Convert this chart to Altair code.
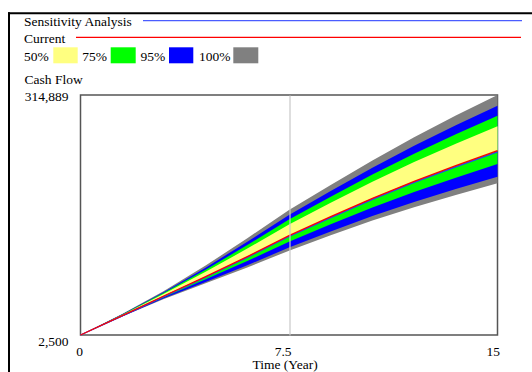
import altair as alt
import pandas as pd

# Simulation time (years)
years = [0, 1.5, 3, 4.5, 6, 7.5, 9, 10.5, 12, 13.5, 15]

# Cash flow of the current run and of the sensitivity base run
current = [2500, 27700, 53300, 78400, 104500, 131800, 156500, 180400, 202500, 222900, 242400]
sensitivity = [2500, 27400, 52800, 77700, 103600, 130700, 155300, 179100, 201100, 221400, 240900]

# Confidence bounds of the sensitivity runs
yellow_hi = [2500, 28650, 56151, 84735, 114952, 146370, 174554, 201938, 227522, 251406, 274073]
green_hi = [2500, 29067, 57400, 87511, 119533, 152756, 182467, 211378, 238489, 263900, 287956]
green_lo = [2500, 27179, 51738, 74929, 98773, 123817, 146608, 168599, 188790, 207280, 225045]
blue_hi = [2500, 29457, 58571, 90114, 123829, 158743, 189886, 220229, 248772, 275615, 300972]
blue_lo = [2500, 26685, 50254, 71632, 93332, 116233, 137210, 157387, 175765, 192442, 208558]
gray_hi = [2500, 29875, 59824, 92898, 128421, 165145, 197819, 229693, 259766, 288140, 314889]
gray_lo = [2500, 26424, 49473, 69896, 90469, 112241, 132264, 151487, 168910, 184633, 199881]

x_ticks = [0, 7.5, 15]
y_ticks = [2500, 314889]

legend_labels = ["50%", "75%", "95%", "100%"]
band_colors = ["#ffff80", "#00ff00", "#0000ff", "#808080"]

df = pd.DataFrame({
    "t": years, "current": current, "sens": sensitivity,
    "y_hi": yellow_hi, "g_hi": green_hi, "g_lo": green_lo,
    "b_hi": blue_hi, "b_lo": blue_lo, "k_hi": gray_hi, "k_lo": gray_lo,
})
one = pd.DataFrame({"k": [0]})

FONT = "Liberation Serif"
FS = 13.5
LEFT, TOP = 80.5, 95  # plot origin inside the page
W, H = 417, 240


def px(x):
    return x - LEFT


def py(y):
    return y - TOP


x_scale = alt.Scale(domain=[0, 15], nice=False)
x_axis = alt.Axis(
    values=x_ticks, labelExpr="datum.value + ''", domain=False, ticks=False,
    grid=True,
    gridColor={"condition": {"test": "datum.value == 7.5", "value": "#c8c8c8"},
               "value": "transparent"},
    gridWidth=1.2,
    labelAlign="right", labelOffset=2, labelBaseline="alphabetic", labelPadding=20,
    labelFont=FONT, labelFontSize=FS, labelColor="black",
    title="Time (Year)", titleX=204, titleY=33.5, titleBaseline="alphabetic",
    titleAlign="center", titleFontWeight="normal",
    titleFont=FONT, titleFontSize=FS, titleColor="black", zindex=1,
)
y_scale = alt.Scale(domain=[2500, 314889], nice=False, zero=False)
y_axis = alt.Axis(
    values=y_ticks, labelExpr="format(datum.value, ',')", domain=False, ticks=False,
    grid=False,
    labelAlign="right", labelBaseline="alphabetic", labelPadding=12.5,
    labelOffset={"condition": {"test": "datum.value < 100000", "value": 10}, "value": 5},
    labelFont=FONT, labelFontSize=FS, labelColor="black",
    title="Cash Flow", titleAngle=0, titleAlign="left", titleBaseline="alphabetic",
    titleX=px(24), titleY=py(83), titleFontWeight="normal",
    titleFont=FONT, titleFontSize=FS, titleColor="black", zindex=1,
)


def X():
    return alt.X("t:Q", scale=x_scale, axis=x_axis)


def Y(field):
    return alt.Y(f"{field}:Q", scale=y_scale, axis=y_axis)


base = alt.Chart(df)
bands = [
    base.mark_area(color=band_colors[3]).encode(x=X(), y=Y("k_lo"), y2="k_hi:Q"),
    base.mark_area(color=band_colors[2]).encode(x=X(), y=Y("b_lo"), y2="b_hi:Q"),
    base.mark_area(color=band_colors[1]).encode(x=X(), y=Y("g_lo"), y2="g_hi:Q"),
    base.mark_area(color=band_colors[0]).encode(x=X(), y=Y("current"), y2="y_hi:Q"),
]
lines = [
    base.mark_line(color="#2a3cff", strokeWidth=1.3).encode(x=X(), y=Y("sens")),
    base.mark_line(color="#ff0000", strokeWidth=1.3).encode(x=X(), y=Y("current")),
]


def text(label, x, y):
    return alt.Chart(one).mark_text(
        text=label, align="left", baseline="alphabetic", font=FONT, fontSize=FS,
        color="black",
    ).encode(x=alt.value(px(x)), y=alt.value(py(y)))


def hrule(x1, x2, y, color, width):
    return alt.Chart(one).mark_rule(color=color, strokeWidth=width).encode(
        x=alt.value(px(x1)), x2=alt.value(px(x2)), y=alt.value(py(y)))


def vrule(x, y1, y2, color, width):
    return alt.Chart(one).mark_rule(color=color, strokeWidth=width).encode(
        x=alt.value(px(x)), y=alt.value(py(y1)), y2=alt.value(py(y2)))


def swatch(x1, x2, y1, y2, color):
    return alt.Chart(one).mark_rect(color=color).encode(
        x=alt.value(px(x1)), x2=alt.value(px(x2)),
        y=alt.value(py(y1)), y2=alt.value(py(y2)))


# Page frame and run legend
decor = [
    hrule(8, 532, 13.3, "black", 2),
    vrule(9, 12.3, 372, "black", 2),
    text("Sensitivity Analysis", 24, 26),
    hrule(143, 522, 20.7, "#4a5cff", 1.3),
    text("Current", 24, 42.5),
    hrule(76, 521, 37.3, "#ff0000", 1.3),
]

# Confidence band legend: label followed by its swatch
label_x = [24, 82.3, 140.5, 199]
swatch_x = [(53.3, 77.7), (110.7, 135.7), (169, 193.3), (233.3, 258.3)]
for lab, lx, (sx1, sx2), col in zip(legend_labels, label_x, swatch_x, band_colors):
    decor.append(text(lab, lx, 61))
    decor.append(swatch(sx1, sx2, 47.3, 63.3, col))

chart = alt.layer(*bands, *lines, *decor).properties(
    width=W, height=H,
    background="white",
    autosize=alt.AutoSizeParams(type="none"),
    padding={"left": LEFT, "top": TOP, "right": 532 - LEFT - W, "bottom": 372 - TOP - H},
).configure_view(
    stroke="#555555", strokeWidth=1.5,
)

chart.save("out.html", embed_options={"renderer": "svg", "actions": False})
